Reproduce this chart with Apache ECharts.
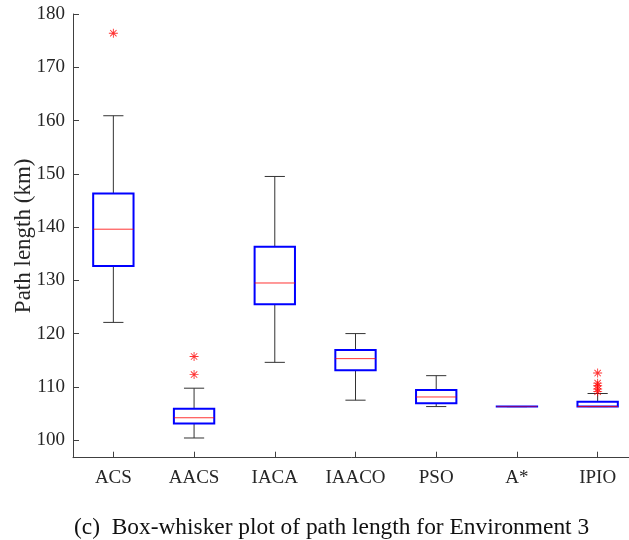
<!DOCTYPE html>
<html>
<head>
<meta charset="utf-8">
<script src="https://cdn.jsdelivr.net/npm/echarts@6/dist/echarts.min.js"></script>
<style>
html,body{margin:0;padding:0;background:#fff;}
#chart{width:629px;height:540px;}
</style>
</head>
<body>
<div id="chart"></div>
<script>
// Categories
var categories = ['ACS', 'AACS', 'IACA', 'IAACO', 'PSO', 'A*', 'IPIO'];
// Box statistics: [min whisker, Q1, median, Q3, max whisker]
var whiskerLow  = [122.1, 100.4, 114.6, 107.5, 106.3, 106.3, 106.3];
var quartile1   = [132.7, 103.1, 125.5, 113.1, 106.9, 106.3, 106.3];
var medians     = [139.6, 104.2, 129.5, 115.3, 108.1, 106.3, 106.3];
var quartile3   = [146.3, 105.9, 136.3, 116.9, 109.4, 106.3, 107.2];
var whiskerHigh = [160.9, 109.75, 149.5, 120.0, 112.1, 106.3, 108.75];
// Outliers per category
var outliersACS  = [176.4];
var outliersAACS = [112.3, 115.7];
var outliersIPIO = [109.1, 109.6, 110.2, 110.7, 112.6];
// Axis labels
var yAxisName = 'Path length (km)';
var captionText = '(c)  Box-whisker plot of path length for Environment 3';

var boxData = categories.map(function (c, i) {
  return [i, whiskerLow[i], quartile1[i], medians[i], quartile3[i], whiskerHigh[i]];
});
var outlierData = [];
outliersACS.forEach(function (v) { outlierData.push([0, v]); });
outliersAACS.forEach(function (v) { outlierData.push([1, v]); });
outliersIPIO.forEach(function (v) { outlierData.push([6, v]); });

var FONT = '"Liberation Serif", "Times New Roman", "DejaVu Serif", serif';
var AX = '#404040';

function renderBox(params, api) {
  var x = api.value(0);
  var pMin = api.coord([x, api.value(1)]);
  var pQ1 = api.coord([x, api.value(2)]);
  var pMed = api.coord([x, api.value(3)]);
  var pQ3 = api.coord([x, api.value(4)]);
  var pMax = api.coord([x, api.value(5)]);
  var band = api.size([1, 0])[0];
  var bw = band * 0.5;
  var cw = band * 0.25;
  var cx = pMed[0];
  var flat = Math.abs(pQ1[1] - pQ3[1]) < 0.5;
  var wStyle = { stroke: '#333333', lineWidth: 1, fill: null };
  return {
    type: 'group',
    children: [
      { type: 'line', shape: { x1: cx, y1: pMax[1], x2: cx, y2: pQ3[1] }, style: wStyle },
      { type: 'line', shape: { x1: cx, y1: pQ1[1], x2: cx, y2: pMin[1] }, style: wStyle },
      { type: 'line', shape: { x1: cx - cw / 2, y1: pMax[1], x2: cx + cw / 2, y2: pMax[1] }, style: wStyle },
      { type: 'line', shape: { x1: cx - cw / 2, y1: pMin[1], x2: cx + cw / 2, y2: pMin[1] }, style: wStyle },
      { type: 'rect', shape: { x: cx - bw / 2, y: pQ3[1], width: bw, height: Math.max(pQ1[1] - pQ3[1], 0.01) },
        style: { stroke: '#0000ff', lineWidth: 2, fill: null } },
      { type: 'line', shape: { x1: cx - bw / 2, y1: pMed[1], x2: cx + bw / 2, y2: pMed[1] },
        style: { stroke: '#ff0000', lineWidth: 1, opacity: flat ? 0.5 : 0.8 } }
    ]
  };
}

var asterisk = 'path://M9,0h2v20h-2z M0,9h20v2h-20z M2.2,3.6L3.6,2.2L17.8,16.4L16.4,17.8z M16.4,2.2L17.8,3.6L3.6,17.8L2.2,16.4z';

var chart = echarts.init(document.getElementById('chart'), null, { renderer: 'canvas' });
chart.setOption({
  backgroundColor: '#ffffff',
  animation: false,
  textStyle: { fontFamily: FONT },
  grid: { left: 73, top: 14, width: 565, height: 443.7, containLabel: false, outerBoundsMode: 'none' },
  xAxis: {
    type: 'category',
    data: categories,
    boundaryGap: true,
    axisLine: { show: true, lineStyle: { color: AX, width: 1 } },
    axisTick: { show: true, inside: true, length: 6, alignWithLabel: true, lineStyle: { color: AX } },
    axisLabel: { color: '#262626', fontSize: 19, fontFamily: FONT, margin: 11 },
    splitLine: { show: false }
  },
  yAxis: {
    type: 'value',
    min: 96.7,
    max: 180,
    splitNumber: 8,
    name: yAxisName,
    nameLocation: 'middle',
    nameRotate: 90,
    nameGap: 38,
    nameMoveOverlap: false,
    nameTextStyle: { color: '#262626', fontSize: 23, fontFamily: FONT },
    axisLine: { show: true, lineStyle: { color: AX, width: 1 } },
    axisTick: { show: true, inside: true, length: 6, lineStyle: { color: AX } },
    axisLabel: {
      color: '#262626', fontSize: 19, fontFamily: FONT, margin: 8,
      formatter: function (v) { return (Math.abs(v % 10) < 1e-6) ? String(v) : ''; }
    },
    splitLine: { show: false }
  },
  series: [
    {
      type: 'custom',
      renderItem: renderBox,
      data: boxData,
      encode: { x: 0, y: [1, 2, 3, 4, 5] },
      clip: false,
      z: 2
    },
    {
      type: 'scatter',
      data: outlierData,
      symbol: asterisk,
      symbolSize: 9,
      itemStyle: { color: '#ff0000' },
      z: 3
    }
  ],
  graphic: [
    {
      type: 'text',
      left: 74,
      top: 516,
      style: { text: captionText, fontSize: 23.4, fontFamily: FONT, fill: '#111111' }
    }
  ]
});
</script>
</body>
</html>
